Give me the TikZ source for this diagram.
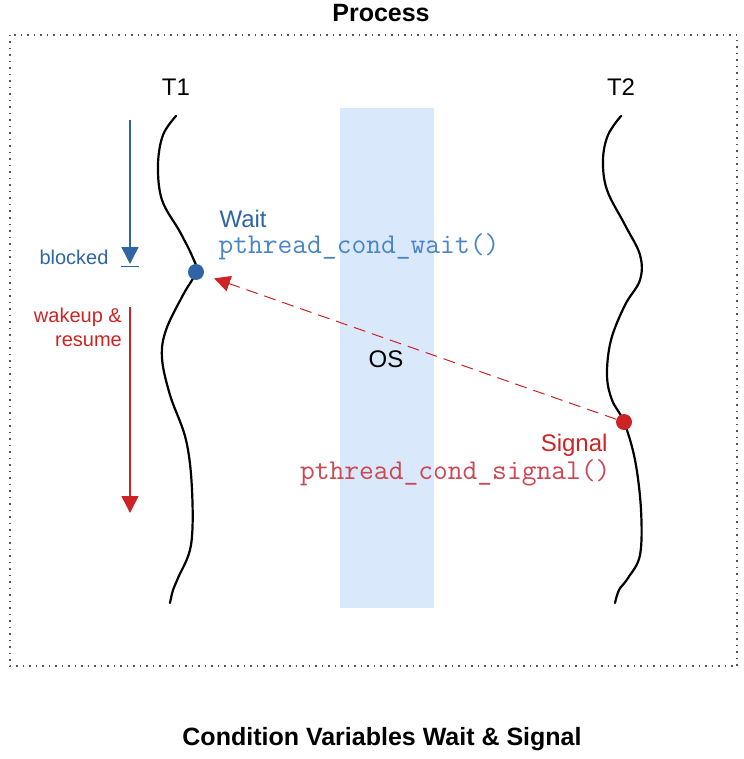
\documentclass[tikz,border=0pt]{standalone}
\usepackage{fontspec}
\setmainfont{Liberation Sans}
\usetikzlibrary{arrows.meta}
\definecolor{osblue}{HTML}{DAE8FC}
\definecolor{dkblue}{HTML}{2F65A2}
\definecolor{codeblue}{HTML}{4A86C6}
\definecolor{sigred}{HTML}{CC2424}
\definecolor{codered}{HTML}{CC4752}
\definecolor{boxgray}{HTML}{555555}
\tikzset{
  big/.style={font=\fontsize{24}{28}\selectfont},
  bigb/.style={font=\fontsize{25}{28}\selectfont\bfseries},
  small/.style={font=\fontsize{20}{24}\selectfont},
  code/.style={font=\fontsize{28.7}{30}\selectfont\ttfamily},
  thread/.style={line width=2.2pt, black, line cap=round},
  dotfill/.style={circle, inner sep=0pt, minimum size=16pt},
}
\begin{document}
\begin{tikzpicture}[x=1pt,y=-1pt]
\useasboundingbox (0,0) rectangle (743,759);
% process box
\draw[boxgray, line width=1.2pt, dash pattern=on 1.5pt off 5pt] (10,35) rectangle (737,666);
\node[bigb, anchor=center] (proc) at (381,13) {Process};
\node[bigb, anchor=center] (title) at (382,739) {Condition Variables Wait \& Signal};
% OS band
\fill[osblue] (340,108) rectangle (434,608);
\node[big] (os) at (386,359) {OS};
% thread labels
\node[big] (t1) at (176,87) {T1};
\node[big] (t2) at (621,87) {T2};
% T1 line
\draw[thread] plot[smooth, tension=0.6] coordinates {(176,116) (163,135) (158,165) (162,200) (180,232) (193,258) (196,272) (183,295) (166,330) (162,358) (170,395) (186,440) (192,490) (191,545) (178,578) (173,590) (170,603)};
% T2 line
\draw[thread] plot[smooth, tension=0.6] coordinates {(621,116) (608,135) (603,160) (607,190) (625,225) (640,255) (640,280) (625,305) (611,340) (607,375) (612,400) (624,422) (635,460) (641,510) (640,555) (628,578) (619,590) (615,603)};
% dots
\node[dotfill, fill=dkblue] (wd) at (196,272) {};
\node[dotfill, fill=sigred] (sd) at (624,422) {};
% dashed signal arrow
\draw[sigred, line width=1pt, dash pattern=on 12pt off 7pt, -{Triangle[length=16pt,width=16pt]}, shorten >=11pt] (sd) -- (wd);
% labels
\node[big, text=dkblue, anchor=west] (waitl) at (216,219) {Wait};
\node[code, text=codeblue, anchor=west] (waitc) at (215,247) {pthread\_cond\_wait()};
\node[big, text=sigred, anchor=east] (sigl) at (611,445) {Signal};
\node[code, text=codered, anchor=east] (sigc) at (614,473) {pthread\_cond\_signal()};
% blocked arrow
\coordinate (b0) at (130,120);
\coordinate (b1) at (130,264);
\draw[dkblue, line width=1.5pt, -{Triangle[length=17pt,width=17pt]}] (b0) -- (b1);
\coordinate (bl) at (121,266.5);
\coordinate (br) at (139,266.5);
\draw[dkblue, line width=1.8pt] (bl) -- (br);
\node[small, text=dkblue, anchor=east] (blk) at (112,257) {blocked};
% wakeup arrow
\coordinate (w0) at (130,307);
\coordinate (w1) at (130,513);
\draw[sigred, line width=1.5pt, -{Triangle[length=17pt,width=17pt]}] (w0) -- (w1);
\node[small, text=sigred, anchor=north east, align=right, inner sep=0pt] (wk) at (122,308) {wakeup \&\\resume};
\end{tikzpicture}
\end{document}
